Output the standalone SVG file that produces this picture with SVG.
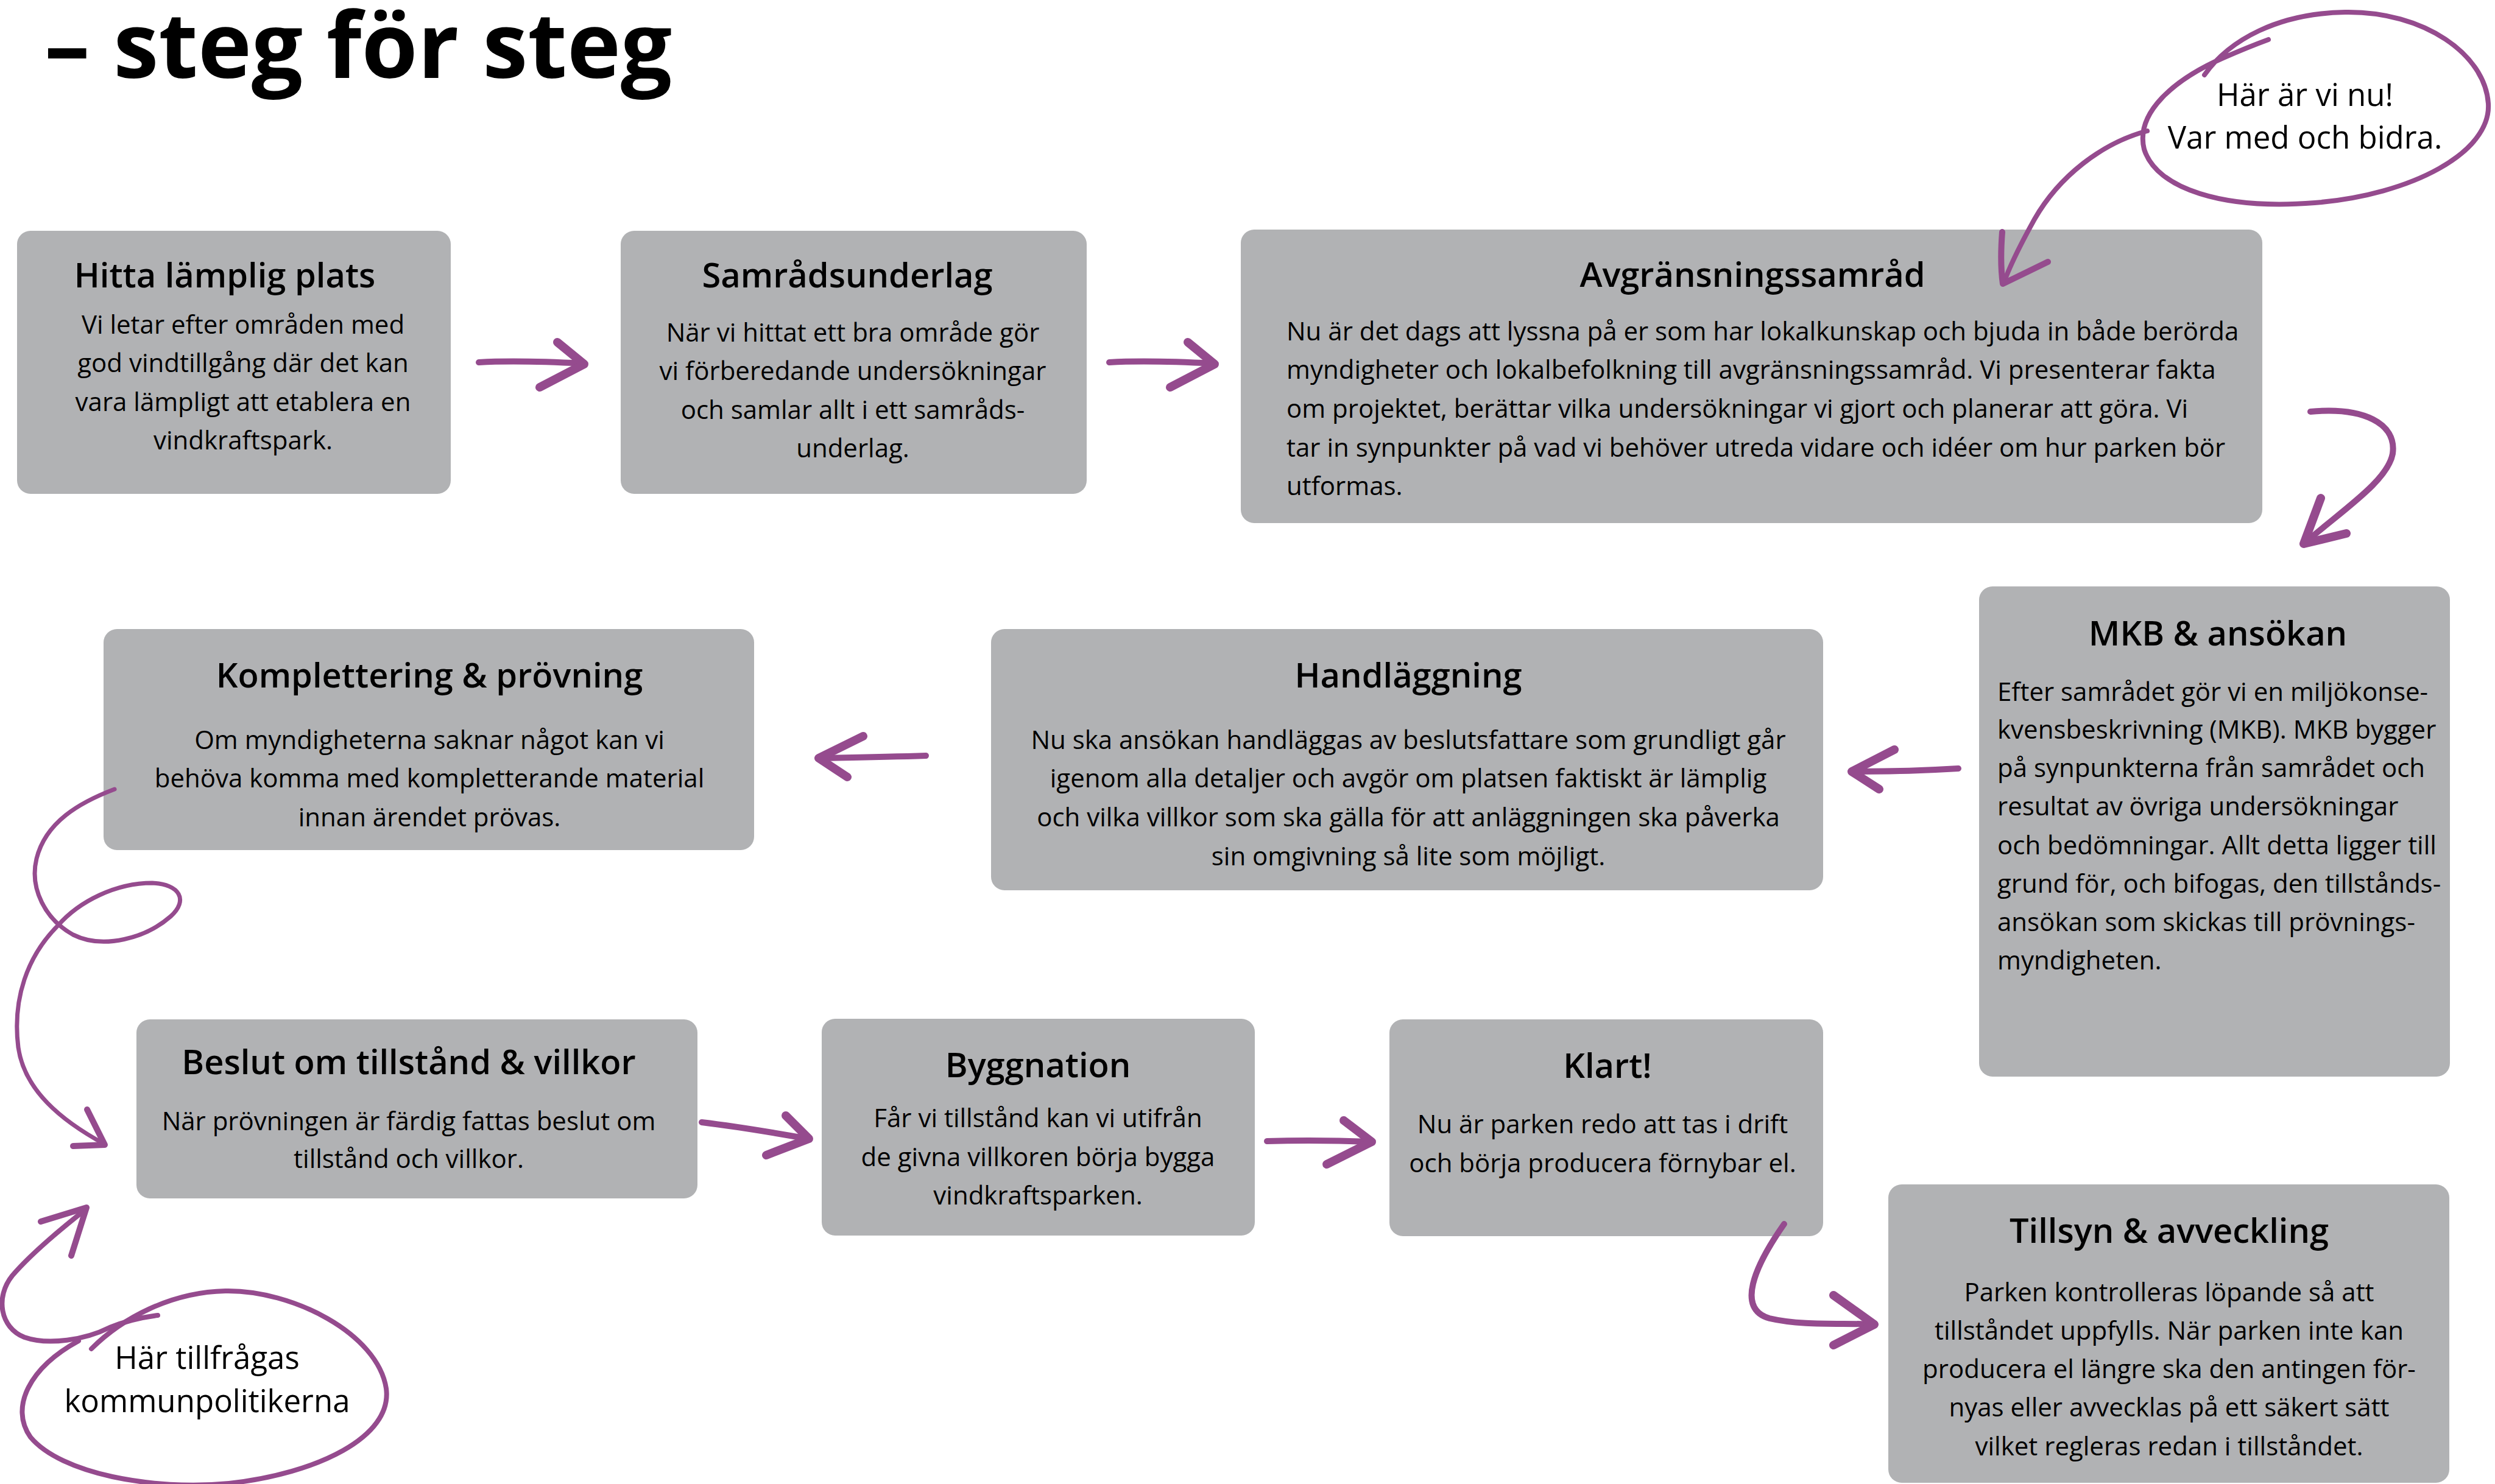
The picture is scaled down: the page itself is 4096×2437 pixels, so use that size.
<svg xmlns="http://www.w3.org/2000/svg" width="4096" height="2437" viewBox="0 0 4096 2437">
<style>
.box{fill:#B1B2B4}
.t{font-family:"Open Sans","Noto Sans",sans-serif;font-size:56px;font-weight:600;fill:#000;text-anchor:middle}
.b{font-family:"Open Sans","Noto Sans",sans-serif;font-size:42px;font-weight:400;fill:#000;text-anchor:middle}
.bl{font-family:"Open Sans","Noto Sans",sans-serif;font-size:42px;font-weight:400;fill:#000;text-anchor:start}
.c{font-family:"Open Sans","Noto Sans",sans-serif;font-size:51px;font-weight:400;fill:#000;text-anchor:middle}
.h{font-family:"Open Sans","Noto Sans",sans-serif;font-size:149px;font-weight:700;fill:#000}
.arr{fill:none;stroke:#954B8E;stroke-linecap:round;stroke-linejoin:round;stroke-width:10}
.hd{fill:none;stroke:#954B8E;stroke-linecap:round;stroke-linejoin:round;stroke-width:14}
.thin{fill:none;stroke:#954B8E;stroke-linecap:round;stroke-linejoin:round;stroke-width:7}
.loop{fill:none;stroke:#954B8E;stroke-linecap:round;stroke-linejoin:round;stroke-width:8}
</style>
<rect x="0" y="0" width="4096" height="2437" fill="#FFFFFF"/>
<text class="h" x="73" y="128">– steg för steg</text>

<g id="n1">
<rect class="box" x="28" y="379" width="712" height="432" rx="22"/>
<text class="t" x="369" y="472">Hitta lämplig plats</text>
<text class="b" x="399" y="548">Vi letar efter områden med</text>
<text class="b" x="399" y="611">god vindtillgång där det kan</text>
<text class="b" x="399" y="675">vara lämpligt att etablera en</text>
<text class="b" x="399" y="738">vindkraftspark.</text>
</g>

<g id="n2">
<rect class="box" x="1019" y="379" width="765" height="432" rx="22"/>
<text class="t" x="1391" y="472">Samrådsunderlag</text>
<text class="b" x="1400" y="561">När vi hittat ett bra område gör</text>
<text class="b" x="1400" y="624">vi förberedande undersökningar</text>
<text class="b" x="1400" y="688">och samlar allt i ett samråds-</text>
<text class="b" x="1400" y="751">underlag.</text>
</g>

<g id="n3">
<rect class="box" x="2037" y="377" width="1677" height="482" rx="22"/>
<text class="t" x="2877" y="471">Avgränsningssamråd</text>
<text class="bl" x="2112" y="559">Nu är det dags att lyssna på er som har lokalkunskap och bjuda in både berörda</text>
<text class="bl" x="2112" y="622">myndigheter och lokalbefolkning till avgränsningssamråd. Vi presenterar fakta</text>
<text class="bl" x="2112" y="686">om projektet, berättar vilka undersökningar vi gjort och planerar att göra. Vi</text>
<text class="bl" x="2112" y="750">tar in synpunkter på vad vi behöver utreda vidare och idéer om hur parken bör</text>
<text class="bl" x="2112" y="813">utformas.</text>
</g>

<g id="n4">
<rect class="box" x="3249" y="963" width="773" height="805" rx="22"/>
<text class="t" x="3641" y="1060">MKB &amp; ansökan</text>
<text class="bl" x="3279" y="1151">Efter samrådet gör vi en miljökonse-</text>
<text class="bl" x="3279" y="1213">kvensbeskrivning (MKB). MKB bygger</text>
<text class="bl" x="3279" y="1276">på synpunkterna från samrådet och</text>
<text class="bl" x="3279" y="1339">resultat av övriga undersökningar</text>
<text class="bl" x="3279" y="1403">och bedömningar. Allt detta ligger till</text>
<text class="bl" x="3279" y="1466">grund för, och bifogas, den tillstånds-</text>
<text class="bl" x="3279" y="1529">ansökan som skickas till prövnings-</text>
<text class="bl" x="3279" y="1592">myndigheten.</text>
</g>

<g id="n5">
<rect class="box" x="1627" y="1033" width="1366" height="429" rx="22"/>
<text class="t" x="2312" y="1129">Handläggning</text>
<text class="b" x="2312" y="1230">Nu ska ansökan handläggas av beslutsfattare som grundligt går</text>
<text class="b" x="2312" y="1293">igenom alla detaljer och avgör om platsen faktiskt är lämplig</text>
<text class="b" x="2312" y="1357">och vilka villkor som ska gälla för att anläggningen ska påverka</text>
<text class="b" x="2312" y="1421">sin omgivning så lite som möjligt.</text>
</g>

<g id="n6">
<rect class="box" x="170" y="1033" width="1068" height="363" rx="22"/>
<text class="t" x="705" y="1129">Komplettering &amp; prövning</text>
<text class="b" x="705" y="1230">Om myndigheterna saknar något kan vi</text>
<text class="b" x="705" y="1293">behöva komma med kompletterande material</text>
<text class="b" x="705" y="1357">innan ärendet prövas.</text>
</g>

<g id="n7">
<rect class="box" x="224" y="1674" width="921" height="294" rx="22"/>
<text class="t" x="671" y="1764">Beslut om tillstånd &amp; villkor</text>
<text class="b" x="671" y="1856">När prövningen är färdig fattas beslut om</text>
<text class="b" x="671" y="1918">tillstånd och villkor.</text>
</g>

<g id="n8">
<rect class="box" x="1349" y="1673" width="711" height="356" rx="22"/>
<text class="t" x="1704" y="1769">Byggnation</text>
<text class="b" x="1704" y="1851">Får vi tillstånd kan vi utifrån</text>
<text class="b" x="1704" y="1915">de givna villkoren börja bygga</text>
<text class="b" x="1704" y="1978">vindkraftsparken.</text>
</g>

<g id="n9">
<rect class="box" x="2281" y="1674" width="712" height="356" rx="22"/>
<text class="t" x="2639" y="1770">Klart!</text>
<text class="b" x="2631" y="1861">Nu är parken redo att tas i drift</text>
<text class="b" x="2631" y="1925">och börja producera förnybar el.</text>
</g>

<g id="n10">
<rect class="box" x="3100" y="1945" width="921" height="490" rx="22"/>
<text class="t" x="3561" y="2041">Tillsyn &amp; avveckling</text>
<text class="b" x="3561" y="2137">Parken kontrolleras löpande så att</text>
<text class="b" x="3561" y="2200">tillståndet uppfylls. När parken inte kan</text>
<text class="b" x="3561" y="2263">producera el längre ska den antingen för-</text>
<text class="b" x="3561" y="2326">nyas eller avvecklas på ett säkert sätt</text>
<text class="b" x="3561" y="2390">vilket regleras redan i tillståndet.</text>
</g>

<g id="callout1">
<path class="loop" d="M3619,123 C3660,65 3740,22 3850,20 C3980,18 4080,90 4085,170 C4090,250 3960,320 3800,333 C3650,345 3540,310 3520,245 C3505,185 3570,130 3650,95 C3680,82 3705,72 3724,65"/>
<text class="c" x="3784" y="174">Här är vi nu!</text>
<text class="c" x="3784" y="244">Var med och bidra.</text>
</g>

<g id="callout2">
<path class="loop" d="M150,2215 C200,2165 280,2122 370,2120 C480,2118 620,2190 634,2280 C645,2360 520,2420 376,2436 C250,2448 100,2420 50,2360 C15,2310 50,2245 129,2202"/>
<text class="c" x="340" y="2248">Här tillfrågas</text>
<text class="c" x="340" y="2319">kommunpolitikerna</text>
</g>

<g id="connectors">
<path class="arr" d="M786,595 C840,592 900,594 957,597"/>
<path class="hd" d="M915,562 L959,598 L886,636"/>
<path class="arr" d="M1821,595 C1875,592 1935,594 1992,597"/>
<path class="hd" d="M1950,562 L1994,598 L1921,636"/>
<path class="arr" d="M3793,676 C3880,668 3935,695 3928,745 C3920,790 3845,838 3782,893"/>
<path class="hd" d="M3810,818 L3782,893 L3852,876"/>
<path class="arr" d="M3215,1262 C3150,1266 3090,1267 3041,1267"/>
<path class="hd" d="M3110,1231 L3040,1267 L3085,1296"/>
<path class="arr" d="M1520,1241 C1460,1243 1400,1244 1346,1245"/>
<path class="hd" d="M1417,1209 L1344,1245 L1391,1276"/>
<path class="thin" d="M188,1296 C130,1318 75,1350 60,1410 C48,1460 75,1510 120,1535 C170,1560 240,1540 280,1505 C310,1478 295,1452 250,1450 C190,1450 130,1480 95,1520 C45,1570 20,1640 30,1720 C40,1790 100,1840 172,1879"/>
<path class="arr" d="M143,1822 L172,1880 L120,1882"/>
<path class="arr" d="M1152,1843 C1210,1850 1270,1860 1326,1870"/>
<path class="hd" d="M1290,1832 L1328,1870 L1258,1897"/>
<path class="arr" d="M2080,1874 C2140,1872 2200,1873 2250,1875"/>
<path class="hd" d="M2206,1840 L2252,1875 L2178,1912"/>
<path class="arr" d="M2929,2010 C2880,2080 2850,2150 2905,2165 C2960,2178 3030,2172 3077,2175"/>
<path class="hd" d="M3010,2127 L3077,2175 L3010,2209"/>
<path class="loop" d="M3525,215 C3450,235 3380,290 3340,360 C3315,405 3300,435 3289,466"/>
<path class="arr" d="M3287,381 C3284,420 3285,445 3288,466 L3362,430"/>
<path class="loop" d="M142,1985 C100,2018 50,2060 20,2095 C-8,2130 0,2180 40,2196 C80,2210 140,2200 180,2180 C205,2170 235,2163 259,2160"/>
<path class="arr" d="M67,2006 L142,1983 L117,2062"/>
</g>
</svg>
